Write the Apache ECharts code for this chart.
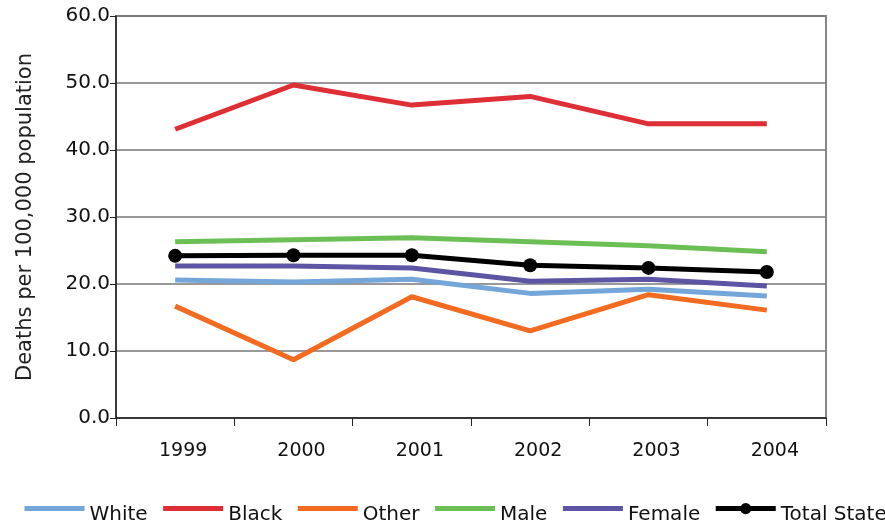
<!DOCTYPE html>
<html>
<head>
<meta charset="utf-8">
<script src="https://cdn.jsdelivr.net/npm/echarts@6/dist/echarts.min.js"></script>
<style>
  html, body { margin: 0; padding: 0; background: #fff; }
  #chart { width: 885px; height: 525px; }
</style>
</head>
<body>
<div id="chart"></div>
<script>
var years = ["1999", "2000", "2001", "2002", "2003", "2004"];
var white = [20.6, 20.3, 20.7, 18.6, 19.2, 18.2];
var black = [43.1, 49.7, 46.7, 48.0, 43.9, 43.9];
var other = [16.7, 8.7, 18.1, 13.0, 18.4, 16.1];
var male = [26.3, 26.6, 26.9, 26.3, 25.7, 24.8];
var female = [22.7, 22.7, 22.4, 20.4, 20.7, 19.7];
var totalState = [24.2, 24.3, 24.3, 22.8, 22.4, 21.8];
var legendNames = ["White", "Black", "Other", "Male", "Female", "Total State"];

var dom = document.getElementById("chart");
var myChart = echarts.init(dom);

function lineSeries(name, data, color) {
  return {
    name: name,
    type: "line",
    data: data,
    symbol: "none",
    lineStyle: { color: color, width: 5 },
    itemStyle: { color: color }
  };
}

var legendData = legendNames.map(function (n) {
  var item = { name: n };
  if (n !== "Total State") item.itemStyle = { opacity: 0 };   // line only, no dot
  return item;
});

var option = {
  animation: false,
  backgroundColor: "#fff",
  grid: {
    left: 116, right: 59, top: 16, bottom: 107,
    show: true, borderColor: "#888", borderWidth: 2
  },
  legend: {
    top: 498, left: 17, width: 1000,
    itemWidth: 60, itemHeight: 14, itemGap: 13,
    lineStyle: { width: 5 },
    formatter: "{t|{name}}",
    textStyle: {
      fontFamily: "DejaVu Sans", fontSize: 20, color: "#111",
      rich: {
        // pushes the name a little below the line icon, like the original
        t: { fontFamily: "DejaVu Sans", fontSize: 20, color: "#111", padding: [12, 0, 0, 0] }
      }
    },
    data: legendData
  },
  xAxis: {
    type: "category",
    data: years,
    boundaryGap: true,
    axisLine: { lineStyle: { color: "#222", width: 1.5 } },
    axisTick: { show: true, length: 8, lineStyle: { color: "#222" } },
    axisLabel: {
      margin: 24, fontFamily: "DejaVu Sans", fontSize: 19, color: "#111",
      padding: [0, 0, 0, 16]
    },
    splitLine: { show: false }
  },
  yAxis: {
    type: "value",
    min: 0, max: 60, interval: 10,
    name: "Deaths per 100,000 population",
    nameLocation: "middle",
    nameGap: 80,
    nameTextStyle: { fontFamily: "DejaVu Sans", fontSize: 21, color: "#222" },
    axisLine: { show: true, lineStyle: { color: "#222", width: 1.5 } },
    axisTick: { show: true, length: 6, lineStyle: { color: "#222" } },
    axisLabel: {
      margin: 6, fontFamily: "DejaVu Sans", fontSize: 20, color: "#111",
      formatter: function (v) { return v.toFixed(1); }
    },
    splitLine: { lineStyle: { color: "#777", width: 1.5 } }
  },
  series: [
    lineSeries("White", white, "#74A6D9"),
    lineSeries("Black", black, "#DE2F37"),
    lineSeries("Other", other, "#F26B21"),
    lineSeries("Male", male, "#6CBF55"),
    lineSeries("Female", female, "#5E54A4"),
    {
      name: "Total State",
      type: "line",
      data: totalState,
      symbol: "circle",
      symbolSize: 14,
      lineStyle: { color: "#000", width: 5 },
      itemStyle: { color: "#000" }
    }
  ]
};

myChart.setOption(option);
</script>
</body>
</html>
